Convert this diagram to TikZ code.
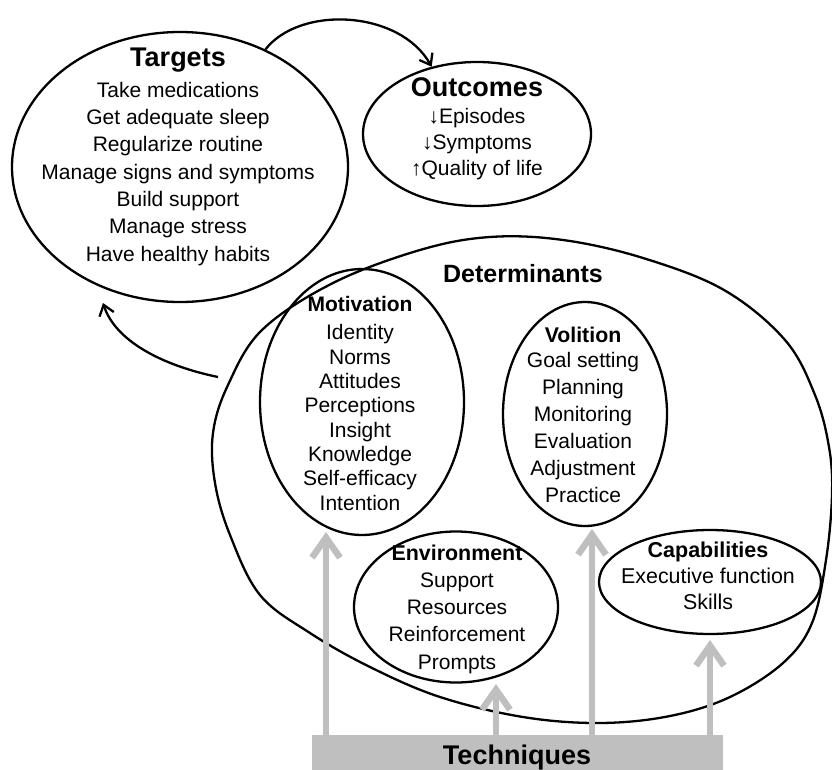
\documentclass[tikz,border=0pt]{standalone}
\usepackage{fontspec}
\setmainfont{Liberation Sans}
\usetikzlibrary{shapes.geometric,arrows.meta}
\definecolor{techgray}{RGB}{191,191,191}
\newcommand\blocktitle[2]{{\fontsize{#1}{#1}\selectfont\bfseries #2}}
\begin{document}
\begin{tikzpicture}[x=1pt,y=-1pt,
  oval/.style={draw=black, ellipse, line width=2.3pt, inner sep=0pt},
  txt/.style={align=center, anchor=base, inner sep=0pt},
  link/.style={draw=black, line width=2.3pt, -{Straight Barb[length=10pt,width=15pt]}},
  feed/.style={draw=techgray, line width=6.5pt, -{Straight Barb[length=20pt,width=28pt]}}]
\useasboundingbox (0,0) rectangle (832,770);

% outline of the determinants region
\draw[line width=2.3pt] plot[smooth cycle, tension=0.6] coordinates {
  (420,250) (490,237) (563,240) (643,258) (724,290) (785,340) (815,395)
  (829,447) (832,495) (826,560) (812,623) (783,663) (730,697) (670,716)
  (600,723) (523,717) (440,697) (370,667) (310,633) (260,595) (230,535)
  (215,483) (213,433) (228,385) (262,330) (333,283)};
\node[txt, font=\fontsize{25}{25}\selectfont\bfseries] (det) at (523,282) {Determinants};

% ovals
\node[oval, minimum width=336pt, minimum height=270pt] (tgt) at (180,167) {};
\node[oval, minimum width=228pt, minimum height=144pt] (out) at (477,134) {};
\node[oval, minimum width=204pt, minimum height=266pt] (mot) at (362,402) {};
\node[oval, minimum width=164pt, minimum height=224pt] (vol) at (585,414) {};
\node[oval, minimum width=204pt, minimum height=151pt] (env) at (456,607) {};
\node[oval, minimum width=222pt, minimum height=104pt] (cap) at (710,582) {};

% texts (each node sits on the baseline of its last line)
\node[txt, font=\fontsize{21}{27.3}\selectfont] (tgtText) at (178,261)
  {\blocktitle{27}{Targets}\\[3.7pt] Take medications\\ Get adequate sleep\\ Regularize routine\\
   Manage signs and symptoms\\ Build support\\ Manage stress\\ Have healthy habits};
\node[txt, font=\fontsize{21}{26}\selectfont] (outText) at (477,176)
  {\blocktitle{27}{Outcomes}\\[1pt] ↓Episodes\\ ↓Symptoms\\ ↑Quality of life};
\node[txt, font=\fontsize{21}{24.3}\selectfont] (motText) at (360,510)
  {\blocktitle{21}{Motivation}\\[3.7pt] Identity\\ Norms\\ Attitudes\\ Perceptions\\ Insight\\
   Knowledge\\ Self-efficacy\\ Intention};
\node[txt, font=\fontsize{21}{27}\selectfont] (volText) at (583,502)
  {\blocktitle{21.3}{Volition}\\[-2pt] Goal setting\\ Planning\\ Monitoring\\ Evaluation\\
   Adjustment\\ Practice};
\node[txt, font=\fontsize{21}{27.2}\selectfont] (envText) at (457,669)
  {\blocktitle{21.4}{Environment}\\ Support\\ Resources\\ Reinforcement\\ Prompts};
\node[txt, font=\fontsize{21.4}{26}\selectfont] (capText) at (708,609)
  {\blocktitle{21.5}{Capabilities}\\ Executive function\\ Skills};

% techniques bar
\node[fill=techgray, minimum width=411pt, minimum height=35pt, inner sep=0pt, anchor=north west] (tech) at (312,735) {};
\node[txt, font=\fontsize{27}{27}\selectfont\bfseries] (techText) at (517,764) {Techniques};

% black links
\coordinate (detW) at (218,377);
\coordinate (tgtS) at (103,303);
\draw[link] (tgt.54) .. controls (300,5) and (400,10) .. (out.124);
\draw[link] (detW) .. controls (160,365) and (115,340) .. (tgtS);

% grey arrows from the techniques bar
\coordinate (tipMot) at (326,532);
\coordinate (tipEnv) at (496,684);
\coordinate (tipVol) at (592,529);
\coordinate (tipCap) at (710,640);
\draw[feed] (tech.north -| tipMot) -- (tipMot);
\draw[feed] (tech.north -| tipEnv) -- (tipEnv);
\draw[feed] (tech.north -| tipVol) -- (tipVol);
\draw[feed] (tech.north -| tipCap) -- (tipCap);
\end{tikzpicture}
\end{document}
